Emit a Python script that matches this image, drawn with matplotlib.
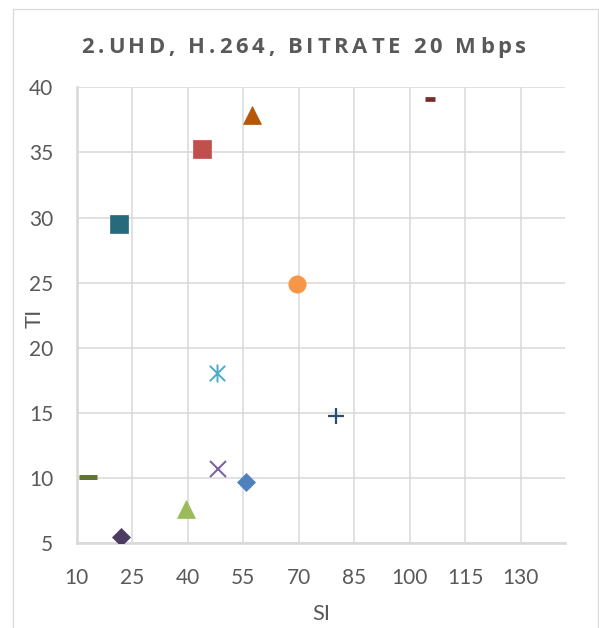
import matplotlib
matplotlib.use("Agg")
import matplotlib.pyplot as plt
from matplotlib.path import Path
from matplotlib.patches import Rectangle
from matplotlib.font_manager import FontProperties, findfont
from matplotlib.ft2font import FT2Font

# data
TITLE = "2.UHD, H.264, BITRATE 20 Mbps"
SI_VALUES = [55.65, 43.85, 39.5, 48.1, 47.8, 69.5, 80.1, 105.4, 13.1, 21.9, 21.4, 57.5]
TI_VALUES = [9.69, 35.27, 7.65, 10.68, 18.10, 24.90, 14.75, 39.10, 10.11, 5.46, 29.53, 37.84]
X_TICKS = [10, 25, 40, 55, 70, 85, 100, 115, 130]
Y_TICKS = [5, 10, 15, 20, 25, 30, 35, 40]

# asterisk marker like Excel's (X plus vertical bar)
ASTERISK = Path(
    [(-0.85, -0.85), (0.85, 0.85), (-0.85, 0.85), (0.85, -0.85), (0, -1), (0, 1)],
    [Path.MOVETO, Path.LINETO, Path.MOVETO, Path.LINETO, Path.MOVETO, Path.LINETO],
)

# one style per series, Excel default order
STYLES = [
    dict(marker="D", ms=9.2, color="#4F81BD"),
    dict(marker="s", ms=12.5, color="#C0504D"),
    dict(marker="^", ms=12.8, color="#9BBB59"),
    dict(marker="x", ms=11.5, mew=1.5, color="#8064A2"),
    dict(marker=ASTERISK, ms=13, mew=1.4, color="#4BACC6", mfc="none"),
    dict(marker="o", ms=12.5, color="#F79646"),
    dict(marker="+", ms=12, mew=1.6, color="#2C4D75"),
    dict(marker="_", ms=7.2, mew=3.4, color="#772C2A"),
    dict(marker="_", ms=12.5, mew=3.6, color="#5F7530"),
    dict(marker="D", ms=9.2, color="#4D3B62"),
    dict(marker="s", ms=12.5, color="#276A7C"),
    dict(marker="^", ms=12.8, color="#B65708"),
]

GREY = "#595959"
GRID = "#D9D9D9"
W, H = 599, 628

plt.rcParams["font.family"] = ["Lato", "DejaVu Sans"]

fig = plt.figure(figsize=(W / 100, H / 100), dpi=100)

# chart area border
fig.patches.append(Rectangle((13 / W, -0.02), (598 - 13) / W, (H - 9) / H + 0.02,
                             transform=fig.transFigure, fill=False, ec=GRID, lw=0.9))

ax = fig.add_axes([76.7 / W, (H - 543.3) / H, (565 - 76.7) / W, (543.3 - 87.3) / H])

for x, y, st in zip(SI_VALUES, TI_VALUES, STYLES):
    st = dict(st)
    st.setdefault("mec", st["color"])
    st.setdefault("mew", 0.5)
    ax.plot([x], [y], linestyle="none", **st, zorder=3)

ax.set_xlim(10, 142)
ax.set_ylim(5, 40)
ax.set_xticks(X_TICKS)
ax.set_yticks(Y_TICKS)
ax.grid(True, color=GRID, lw=1.1)
ax.set_axisbelow(True)
for side in ["top", "right"]:
    ax.spines[side].set_visible(False)
for side in ["left", "bottom"]:
    ax.spines[side].set_color(GRID)
    ax.spines[side].set_linewidth(1.9)
ax.tick_params(axis="both", length=0, labelsize=15, labelcolor=GREY)
ax.tick_params(axis="x", pad=18)
ax.tick_params(axis="y", pad=17)

ax.set_xlabel("SI", fontsize=15.8, color=GREY)
ax.set_ylabel("TI", fontsize=15.8, color=GREY)
ax.xaxis.set_label_coords(0.5, -(604.5 - 543.3) / 456)
ax.yaxis.set_label_coords((44.7 - 76.7) / 488.3, (543.3 - 318) / 456)

# title with Excel-like letter spacing, one glyph at a time
fp = FontProperties(family="Open Sans", weight="bold", size=15.8)
font = FT2Font(findfont(fp))
font.set_size(fp.get_size_in_points(), 100)
glyphs = [font.load_char(ord(c)) for c in TITLE]
adv = [g.linearHoriAdvance / 65536 for g in glyphs]
spacing = (527 - 82 - sum(adv)) / (len(TITLE) - 1)
pen = 82 - glyphs[0].horiBearingX / 64
for c, a in zip(TITLE, adv):
    if c != " ":
        fig.text(pen / W, (H - 53.3) / H, c, fontproperties=fp,
                 color=GREY, ha="left", va="baseline")
    pen += a + spacing

fig.savefig("out.png", dpi=100)
